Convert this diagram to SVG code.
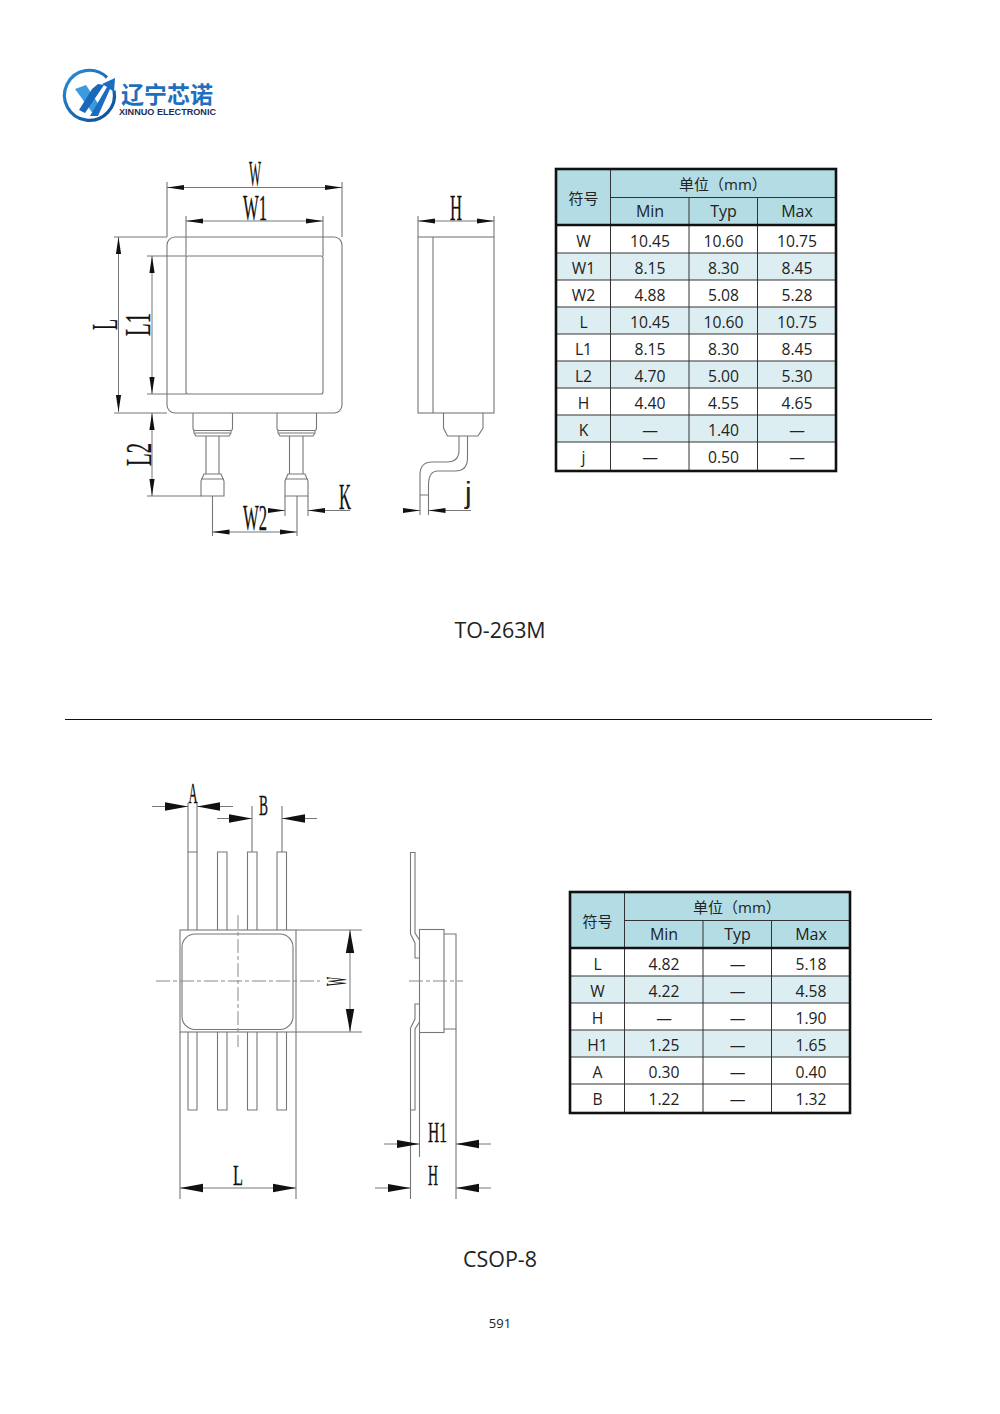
<svg xmlns="http://www.w3.org/2000/svg" width="1000" height="1414" viewBox="0 0 1000 1414">
<style>
.l{fill:none;stroke:#777;stroke-width:1.1}
.c{fill:none;stroke:#888;stroke-width:1;stroke-dasharray:14 3 4 3}
.d{fill:none;stroke:#777;stroke-width:1;marker-end:url(#a)}
.ds{fill:none;stroke:#777;stroke-width:1;marker-start:url(#a);marker-end:url(#a)}
.e{fill:none;stroke:#777;stroke-width:1;marker-end:url(#b)}
.es{fill:none;stroke:#777;stroke-width:1;marker-start:url(#b);marker-end:url(#b)}
.m{font-family:"Liberation Serif",serif;font-size:36px;fill:#111;stroke:#111;stroke-width:.3}
.n{font-size:30px}
.t{font-family:"Open Sans","Noto Sans CJK SC",sans-serif;font-size:15.700px;fill:#222;text-anchor:middle}
.b{transform:translateY(.5px)}
.h{font-size:16px}
.u{font-size:15px;text-anchor:start}
.ti{font-family:"Open Sans","Noto Sans CJK SC",sans-serif;font-size:21.400px;fill:#222;text-anchor:middle}
.hd{fill:#b3dce4}.alt{fill:#dceef2}
.g{fill:none;stroke:#333;stroke-width:1}
.o{fill:none;stroke:#111;stroke-width:2.600}
</style>
<defs>
<marker id="a" markerUnits="userSpaceOnUse" markerWidth="18" markerHeight="8" refX="17" refY="4" orient="auto-start-reverse"><path d="M0 1.400L17 4L0 6.600Z" fill="#111"/></marker>
<marker id="b" markerUnits="userSpaceOnUse" markerWidth="24" markerHeight="10" refX="23" refY="5" orient="auto-start-reverse"><path d="M0 .8L23 5L0 9.200Z" fill="#111"/></marker>
<linearGradient id="lg" x1="0" y1="0" x2="1" y2="1"><stop offset="0" stop-color="#2a8fd8"/><stop offset="1" stop-color="#0c4a96"/></linearGradient>
</defs>
<rect width="1000" height="1414" fill="#fff"/>

<g id="logo">
<path d="M107 77.500A25 25 0 1 0 114 90.500" fill="none" stroke="url(#lg)" stroke-width="3.200"/>
<path d="M75 89L86 85L99 105L94 115Z" fill="#3a9be0"/>
<path d="M79 110L92 89L98 84L104 85L85 113Z" fill="#1a68b8"/>
<path d="M90 116L107 87L102 84L115 78L114 92L110 89L98 116Z" fill="#1a6dc0"/>
<text x="121" y="103" font-family="'Noto Sans CJK SC',sans-serif" font-size="23" font-weight="700" fill="#1e6fc0" textLength="92" lengthAdjust="spacingAndGlyphs">辽宁芯诺</text>
<text x="119" y="115" font-family="'Liberation Sans',sans-serif" font-size="9.600" font-weight="700" fill="#1b2f55" textLength="97" lengthAdjust="spacingAndGlyphs">XINNUO ELECTRONIC</text>
</g>

<g id="to263-front">
<rect class="l" x="167" y="237" width="175" height="176" rx="8"/>
<rect class="l" x="186" y="256" width="137" height="138" rx="2"/>
<path class="l" d="M193 413V428Q193 430.500 195 430.500H231Q232.500 430.500 232.500 428V413M194 430.500V433L196 436H229L231 433V430.500M195 433H230M206 436V474M219 436V474M201 496V481L204 474H221L224 481V496ZM201 479H224"/>
<path class="l" d="M277 413V428Q277 430.500 279 430.500H315Q316.500 430.500 316.500 428V413M278 430.500V433L280 436H313L315 433V430.500M279 433H314M289.500 436V474M303 436V474M285 496V481L288 474H305L308 481V496ZM285 479H308"/>
</g>
<g id="to263-side">
<rect class="l" x="418" y="237" width="76" height="176"/>
<path class="l" d="M433 237V413M443.500 413V428L447.500 436H478L483 428V413M459 436V450Q459 462 447 462H432Q420 462 420 475V515M467.500 436V458Q467.500 471 455 471H438Q428.500 471 428.500 485V515M420 495H428.500"/>
</g>
<g id="connectors">
<path class="l" d="M167 182V237M342 182V237M186 216V256M323 216V256M114 237H167M147 256H186M147 394H186M114 413H167M147 496H201M212.500 496V536M297 496V536M285 496V516M308 496V516M418 216V237M494 216V237"/>
<path class="ds" d="M167 187.500H342"/><path class="ds" d="M186 221H323"/><path class="ds" d="M118.500 237V412"/><path class="ds" d="M152 256V394"/><path class="ds" d="M152 413V496"/><path class="ds" d="M212.500 532H297"/>
<path class="ds" d="M418 221H494"/>
<path class="d" d="M268 510.500H285"/><path class="d" d="M350 510.500H308"/><path class="d" d="M403 510.500H420"/><path class="d" d="M471 510.500H428.500"/>

<path class="l" d="M188 852V803M197 852V803M252 852V806M282 852V806M296 930H362M296 1032H362M180 1032V1199M296 1032V1199M410.500 1110V1199M456 1029V1199M419.500 1033V1157"/>
<path class="e" d="M152 806.500H188"/><path class="e" d="M233 806.500H197"/><path class="e" d="M217 818.500H252"/><path class="e" d="M317 818.500H282"/>
<path class="es" d="M350 930V1032"/><path class="es" d="M180 1188H296"/>
<path class="e" d="M384 1144H419.500"/><path class="e" d="M491 1144H456"/><path class="e" d="M375 1188H410.500"/><path class="e" d="M491 1188H456"/>
</g>
<g id="to263-labels">
<text class="m" x="249" y="186" textLength="12" lengthAdjust="spacingAndGlyphs">W</text>
<text class="m" x="243" y="220" textLength="24" lengthAdjust="spacingAndGlyphs">W1</text>
<text class="m" x="450" y="220" textLength="12" lengthAdjust="spacingAndGlyphs">H</text>
<text class="m" transform="translate(117 330) rotate(-90)" textLength="11" lengthAdjust="spacingAndGlyphs">L</text>
<text class="m" transform="translate(150 336) rotate(-90)" textLength="23" lengthAdjust="spacingAndGlyphs">L1</text>
<text class="m" transform="translate(150.500 466) rotate(-90)" textLength="23" lengthAdjust="spacingAndGlyphs">L2</text>
<text class="m" x="243" y="530" textLength="24" lengthAdjust="spacingAndGlyphs">W2</text>
<text class="m" x="339" y="509" textLength="12" lengthAdjust="spacingAndGlyphs">K</text>
<text x="465" y="503" font-family="'Liberation Sans',sans-serif" font-size="30" fill="#222" textLength="6.600" lengthAdjust="spacingAndGlyphs">j</text>
</g>

<g id="to263-table">
<rect class="hd" x="556" y="169" width="280" height="56"/>
<rect class="alt" x="556" y="253" width="280" height="27"/><rect class="alt" x="556" y="307" width="280" height="27"/><rect class="alt" x="556" y="361" width="280" height="27"/><rect class="alt" x="556" y="415" width="280" height="27"/>
<path class="g" d="M610.500 169V471M689 197.500V471M757.500 197.500V471M610.500 197.500H836M556 253H836M556 280H836M556 307H836M556 334H836M556 361H836M556 388H836M556 415H836M556 442H836"/>
<path class="o" d="M556 225H836"/><rect class="o" x="556" y="169" width="280" height="302"/>
<text class="t h" x="583.500" y="204" style="font-size:15px">符号</text><text class="t u" x="679" y="190">单位（mm）</text>
<text class="t h" x="650" y="217">Min</text><text class="t h" x="723.500" y="217">Typ</text><text class="t h" x="797" y="217">Max</text>
<g class="t b">
<text x="583.500" y="246">W</text><text x="650" y="246">10.45</text><text x="723.500" y="246">10.60</text><text x="797" y="246">10.75</text>
<text x="583.500" y="273">W1</text><text x="650" y="273">8.15</text><text x="723.500" y="273">8.30</text><text x="797" y="273">8.45</text>
<text x="583.500" y="300">W2</text><text x="650" y="300">4.88</text><text x="723.500" y="300">5.08</text><text x="797" y="300">5.28</text>
<text x="583.500" y="327">L</text><text x="650" y="327">10.45</text><text x="723.500" y="327">10.60</text><text x="797" y="327">10.75</text>
<text x="583.500" y="354">L1</text><text x="650" y="354">8.15</text><text x="723.500" y="354">8.30</text><text x="797" y="354">8.45</text>
<text x="583.500" y="381">L2</text><text x="650" y="381">4.70</text><text x="723.500" y="381">5.00</text><text x="797" y="381">5.30</text>
<text x="583.500" y="408">H</text><text x="650" y="408">4.40</text><text x="723.500" y="408">4.55</text><text x="797" y="408">4.65</text>
<text x="583.500" y="435">K</text><text x="650" y="435">—</text><text x="723.500" y="435">1.40</text><text x="797" y="435">—</text>
<text x="583.500" y="462">j</text><text x="650" y="462">—</text><text x="723.500" y="462">0.50</text><text x="797" y="462">—</text>
</g>
</g>
<text class="ti" x="500" y="637.500">TO-263M</text>
<path d="M65 719.500H932" stroke="#111" stroke-width="1.200"/>

<g id="csop-front">
<rect class="l" x="180" y="930" width="116" height="102"/>
<rect class="l" x="182" y="934" width="111" height="95.500" rx="13"/>
<path class="l" d="M188 930V852H197V930M217.500 930V852H227V930M247.500 930V852H257V930M277 930V852H286.500V930"/>
<path class="l" d="M188 1032V1110H197V1032M217.500 1032V1110H227V1032M247.500 1032V1110H257V1032M277 1032V1110H286.500V1032"/>
<path class="c" d="M156 981H320M238 915V1047"/>
</g>
<g id="csop-side">
<rect class="l" x="419.500" y="929.500" width="24.500" height="103"/>
<path class="l" d="M444 934H456V1029H444"/>
<path class="l" d="M410.500 934V852.500H415V933L419.500 940M410.500 934L415 943V958H419.500"/>
<path class="l" d="M410.500 1028V1110H415V1029L419.500 1022M410.500 1028L415 1019V1004H419.500"/>
<path class="c" d="M409 981H463"/>
</g>
<g id="csop-labels">
<text class="m n" x="188.500" y="803" textLength="9" lengthAdjust="spacingAndGlyphs">A</text>
<text class="m n" x="259" y="815" textLength="9" lengthAdjust="spacingAndGlyphs">B</text>
<text class="m n" transform="translate(346 986) rotate(-90)" textLength="9" lengthAdjust="spacingAndGlyphs">W</text>
<text class="m n" x="233" y="1185" textLength="10" lengthAdjust="spacingAndGlyphs">L</text>
<text class="m n" x="428" y="1142" textLength="19" lengthAdjust="spacingAndGlyphs">H1</text>
<text class="m n" x="428" y="1185" textLength="10" lengthAdjust="spacingAndGlyphs">H</text>
</g>

<g id="csop-table">
<rect class="hd" x="570" y="892" width="280" height="56"/>
<rect class="alt" x="570" y="976" width="280" height="27"/><rect class="alt" x="570" y="1030" width="280" height="27"/>
<path class="g" d="M624.500 892V1113M703 920.500V1113M771.500 920.500V1113M624.500 920.500H850M570 976H850M570 1003H850M570 1030H850M570 1057H850M570 1084H850"/>
<path class="o" d="M570 948H850"/><rect class="o" x="570" y="892" width="280" height="221"/>
<text class="t h" x="597.500" y="927" style="font-size:15px">符号</text><text class="t u" x="693" y="913">单位（mm）</text>
<text class="t h" x="664" y="940">Min</text><text class="t h" x="737.500" y="940">Typ</text><text class="t h" x="811" y="940">Max</text>
<g class="t b">
<text x="597.500" y="969">L</text><text x="664" y="969">4.82</text><text x="737.500" y="969">—</text><text x="811" y="969">5.18</text>
<text x="597.500" y="996">W</text><text x="664" y="996">4.22</text><text x="737.500" y="996">—</text><text x="811" y="996">4.58</text>
<text x="597.500" y="1023">H</text><text x="664" y="1023">—</text><text x="737.500" y="1023">—</text><text x="811" y="1023">1.90</text>
<text x="597.500" y="1050">H1</text><text x="664" y="1050">1.25</text><text x="737.500" y="1050">—</text><text x="811" y="1050">1.65</text>
<text x="597.500" y="1077">A</text><text x="664" y="1077">0.30</text><text x="737.500" y="1077">—</text><text x="811" y="1077">0.40</text>
<text x="597.500" y="1104">B</text><text x="664" y="1104">1.22</text><text x="737.500" y="1104">—</text><text x="811" y="1104">1.32</text>
</g>
</g>
<text class="ti" x="500" y="1266.500">CSOP-8</text>
<text class="t" x="500" y="1328" style="font-size:13px">591</text>
</svg>
